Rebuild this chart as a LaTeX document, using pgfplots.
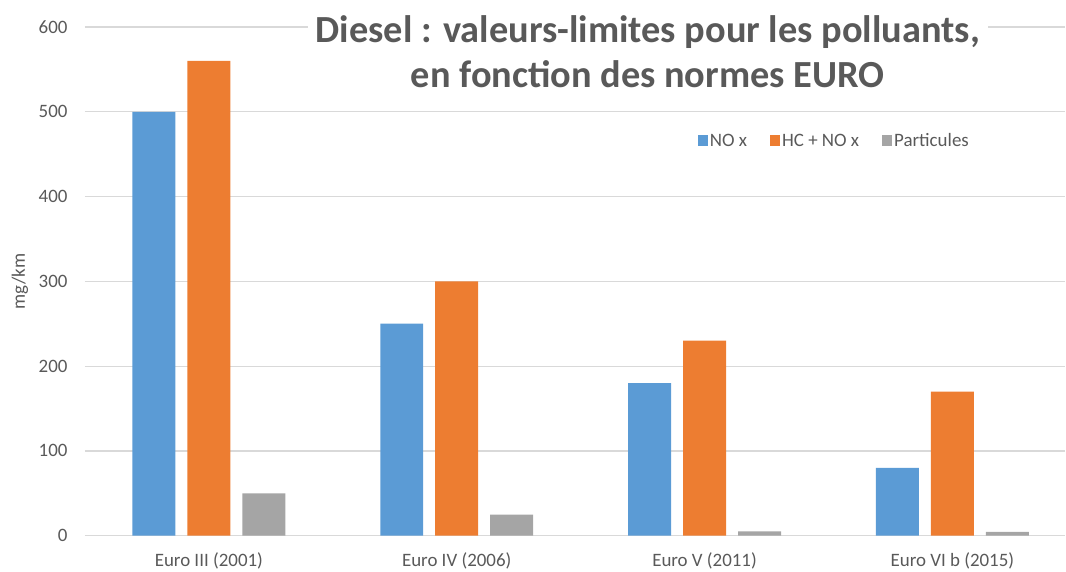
\documentclass[border=0pt]{standalone}
\usepackage{pgfplots}
\pgfplotsset{compat=1.18}
\usepackage{fontspec}
\setmainfont{Carlito}
\definecolor{cblue}{HTML}{5B9BD5}
\definecolor{corange}{HTML}{ED7D31}
\definecolor{cgray}{HTML}{A5A5A5}
\definecolor{tgray}{HTML}{595959}
\definecolor{gridc}{HTML}{D9D9D9}
\begin{document}
\begin{tikzpicture}
\begin{axis}[
  at={(0,0)}, anchor=south west,
  scale only axis, width=981bp, height=509bp,
  xmin=-0.5, xmax=3.456, ymin=0, ymax=600,
  clip=false,
  ybar=12bp, bar width=43bp,
  xtick={0,1,2,3},
  xticklabels={Euro III (2001), Euro IV (2006), Euro V (2011), Euro VI b (2015)},
  ytick={0,100,...,600},
  ymajorgrids, grid style={draw=gridc, line width=1.2bp},
  axis line style={draw=none},
  major tick length=0pt,
  tick label style={text=tgray, font=\fontsize{19}{23}\selectfont},
  /pgf/number format/assume math mode=true,
  xticklabel style={yshift=-13bp},
  yticklabel style={xshift=-14bp},
  legend columns=3,
  legend style={draw=none, fill=none, at={(rel axis cs:0.622,0.776)}, anchor=west,
    font=\fontsize{19}{22}\selectfont, text=tgray,
    /tikz/every even column/.append style={column sep=21bp}},
  legend image code/.code={\fill[#1] (0bp,-5bp) rectangle (10bp,6bp);},
]
\addplot[fill=cblue, draw=none] coordinates {(0,500) (1,250) (2,180) (3,80)};
\addplot[fill=corange, draw=none] coordinates {(0,560) (1,300) (2,230) (3,170)};
\addplot[fill=cgray, draw=none] coordinates {(0,50) (1,25) (2,5) (3,4.5)};
\legend{NO x, HC + NO x, Particules}
\node[fill=white, inner xsep=8bp, inner ysep=2bp, align=center, text=tgray,
  font=\bfseries\fontsize{38.5}{45}\selectfont] at (rel axis cs:0.574,0.951)
  {Diesel : valeurs-limites pour les polluants,\\en fonction des normes EURO};
\node[rotate=90, text=tgray, font=\fontsize{19}{22}\selectfont]
  at ([xshift=-65bp]rel axis cs:0,0.5) {mg/km};
\end{axis}
\path[use as bounding box] (-85bp,-35bp) rectangle (981bp,536bp);
\end{tikzpicture}
\end{document}
